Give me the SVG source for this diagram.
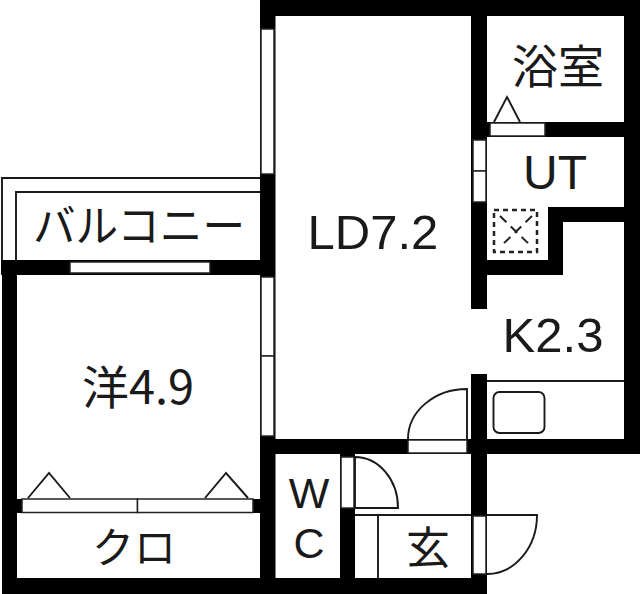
<svg xmlns="http://www.w3.org/2000/svg" width="640" height="594" viewBox="0 0 640 594">
<style>
.w{fill:#000}
.o{fill:#fff;stroke:#222;stroke-width:1.5}
.l{fill:none;stroke:#1a1a1a;stroke-width:1.900}
.t{font-family:"Liberation Sans","Noto Sans CJK JP",sans-serif;fill:#1a1a1a;text-anchor:middle}
.j{font-family:"Noto Sans CJK JP","Liberation Sans",sans-serif;fill:#1a1a1a;text-anchor:middle}
</style>
<rect width="640" height="594" fill="#fff"/>
<g id="walls">
<rect class="w" x="260" y="0" width="380" height="16"/>
<rect class="w" x="624" y="0" width="16" height="454"/>
<rect class="w" x="260" y="0" width="15.500" height="594"/>
<rect class="w" x="471" y="0" width="16" height="309"/>
<rect class="w" x="471" y="374" width="16" height="219"/>
<rect class="w" x="487" y="122" width="137" height="15"/>
<rect class="w" x="548" y="207" width="76" height="15"/>
<rect class="w" x="548" y="207" width="15" height="68"/>
<rect class="w" x="487" y="260" width="76" height="15"/>
<rect class="w" x="260" y="439" width="380" height="15"/>
<rect class="w" x="340" y="454" width="15" height="140"/>
<rect class="w" x="1" y="260" width="274" height="15"/>
<rect class="w" x="2" y="260" width="15" height="334"/>
<rect class="w" x="2" y="578" width="485" height="16"/>
<rect class="w" x="17" y="499" width="243" height="14"/>
</g>
<g id="balcony">
<path class="l" d="M260 178H2V260"/>
<path class="l" d="M260 192H16V260"/>
<rect class="o" x="70" y="262" width="140" height="11"/>
<text class="j" x="139" y="242" font-size="44" textLength="212" lengthAdjust="spacingAndGlyphs">バルコニー</text>
</g>
<g id="western-room">
<text class="j" x="138" y="404" font-size="46" textLength="112" lengthAdjust="spacingAndGlyphs">洋4.9</text>
</g>
<g id="closet">
<rect class="o" x="22" y="499" width="115.500" height="13.500"/>
<rect class="o" x="137.500" y="499" width="115.500" height="13.500"/>
<path class="l" d="M28 498L49 473L70 498"/>
<path class="l" d="M205 498L226 473L248 498"/>
<text class="j" x="134" y="563" font-size="42">クロ</text>
</g>
<g id="ld">
<rect class="o" x="261" y="29" width="13" height="145"/>
<rect class="o" x="261" y="277" width="13" height="79"/>
<rect class="o" x="261" y="356" width="13" height="80"/>
<rect class="o" x="408" y="440" width="59" height="13"/>
<path class="l" d="M467 439V389A59 50 0 0 0 408 439"/>
<text class="t" x="373" y="249" font-size="49">LD7.2</text>
</g>
<g id="bath">
<rect class="o" x="490" y="123" width="55" height="13"/>
<path class="l" d="M494 122L507 97L520 122"/>
<text class="j" x="558" y="83" font-size="46">浴室</text>
</g>
<g id="ut">
<rect class="o" x="473" y="140" width="13" height="31"/>
<rect class="o" x="473" y="171" width="13" height="31"/>
<rect x="494" y="210" width="43" height="42" fill="none" stroke="#222" stroke-width="2.500" stroke-dasharray="5 4"/>
<path d="M500 216L532 247M532 216L500 247" fill="none" stroke="#222" stroke-width="2" stroke-dasharray="9 6"/>
<text class="t" x="555" y="189" font-size="48">UT</text>
</g>
<g id="kitchen">
<path class="l" d="M487 381H624"/>
<rect class="l" x="493.500" y="392" width="51" height="41" rx="6"/>
<text class="t" x="553" y="352" font-size="49">K2.3</text>
</g>
<g id="wc">
<rect class="o" x="341" y="457" width="13" height="51"/>
<path class="l" d="M355 457V508H398A43 51 0 0 0 355 457"/>
<text class="t" x="309" y="508" font-size="43">W</text>
<text class="t" x="309" y="557.500" font-size="43">C</text>
</g>
<g id="entrance">
<path class="l" d="M355 515H471"/>
<path class="l" d="M378 515V578"/>
<rect class="o" x="473" y="516" width="13" height="58"/>
<path class="l" d="M487 515H537A50 59 0 0 1 487 574"/>
<text class="j" x="428" y="564" font-size="44">玄</text>
</g>
</svg>
